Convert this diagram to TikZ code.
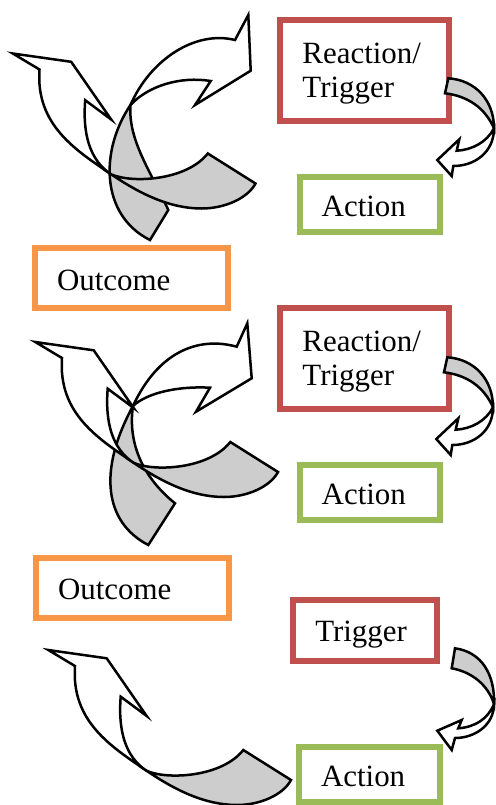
\documentclass[tikz,border=0pt]{standalone}
\usepackage{fontspec}
\setmainfont{Liberation Serif}
\usepackage{tikz}
\definecolor{TriggerRed}{RGB}{192,80,77}
\definecolor{ActionGreen}{RGB}{155,187,89}
\definecolor{OutcomeOrange}{RGB}{247,150,70}
\definecolor{BackGray}{RGB}{205,205,205}

\begin{document}
\begin{tikzpicture}[
x=0.02cm, y=-0.02cm,
font=\fontsize{17.6}{19.3}\selectfont,
box/.style={draw, line width=0.12cm, fill=white, align=left, inner xsep=0.44cm, inner ysep=0pt},
redbox/.style={box, draw=TriggerRed, minimum height=2.01cm, text height=0.43cm, text depth=0.726cm},
greenbox/.style={box, draw=ActionGreen, minimum height=1.1cm, text height=0.496cm, text depth=0cm},
orangebox/.style={box, draw=OutcomeOrange, minimum height=1.2cm, text height=0.49cm, text depth=0cm},
turnline/.style={draw=black, line width=0.05cm, line join=miter},
frontside/.style={turnline, fill=white},
backside/.style={turnline, fill=BackGray},
bigturn/.pic={
  \filldraw[backside] (147,771) .. controls (175,790) and (205,805) .. (237,805) .. controls (260,805) and (283,795) .. (291,780)
    -- (243.3,750) .. controls (222,777) and (168,780) .. (147,771) -- cycle;
  \filldraw[frontside] (48.3,650) -- (75,666) .. controls (71,722) and (112,747) .. (147,771)
    .. controls (125,757) and (118,730) .. (120.7,696.7) -- (146.7,716) -- (106.7,658.3) -- cycle;
},
smallturn/.pic={
  \filldraw[backside] (448.3,78.3) .. controls (475,80) and (494,100) .. (494,128.3)
    .. controls (485,108) and (468,96) .. (445,93.3) -- cycle;
  \filldraw[frontside] (494,128.3) .. controls (494,152) and (475,166) .. (453.3,166)
    -- (451.7,176) -- (437.3,160) -- (459.3,139.3) -- (456.7,150.7)
    .. controls (472,150) and (487,142) .. (494,128.3) -- cycle;
}
]
\useasboundingbox (0,0) rectangle (495,805);

% boxes
\node[redbox, text width=2.49cm] (react1) at (364.7,70.7) {Reaction/\\Trigger};
\node[greenbox, text width=1.92cm] (act1) at (369.7,204.3) {Action};
\node[orangebox, text width=2.98cm] (out1) at (131.5,278.2) {Outcome};
\node[redbox, text width=2.49cm] (react2) at (364.7,358.7) {Reaction/\\Trigger};
\node[greenbox, text width=1.92cm] (act2) at (369.7,492.3) {Action};
\node[orangebox, text width=2.98cm] (out2) at (132.5,587.7) {Outcome};
\node[redbox, text width=1.99cm, minimum height=1.22cm, text height=0.448cm, text depth=0cm] (trig3) at (365,630.5) {Trigger};
\node[greenbox, text width=1.94cm] (act3) at (369.5,774) {Action};

% first cycle
\filldraw[backside] (130.5,105) .. controls (100,150) and (100,215) .. (150,240)
  -- (168.3,210) .. controls (150,170) and (128,140) .. (130.5,105) -- cycle;
\filldraw[frontside] (248.3,15) -- (235,40) .. controls (195,30) and (150,60) .. (130.5,105)
  .. controls (148,86) and (180,76) .. (210.7,81) -- (195,105) -- (250.7,70.7) -- cycle;
\pic at (-35.5,-596.5) {bigturn};
\pic at (0,0) {smallturn};

% second cycle
\filldraw[backside] (133,406) .. controls (98,470) and (104,522) .. (148.3,545)
  -- (175,503.3) .. controls (140,475) and (128,440) .. (133,406) -- cycle;
\filldraw[frontside] (247.3,323.3) -- (236.7,346.7) .. controls (198,336) and (158,352) .. (133,406)
  .. controls (148,392) and (180,386) .. (210,387.7) -- (196,411.7) -- (251.7,378.3) -- cycle;
\pic at (-13,-308) {bigturn};
\pic at (-1,279) {smallturn};

% last arc
\pic at (0,0) {bigturn};
\filldraw[backside] (455,648.3) .. controls (482,652) and (495,675) .. (494,704)
  .. controls (488,685) and (472,672) .. (451.7,668.3) -- cycle;
\filldraw[frontside] (494,704) .. controls (494,725) and (475,738) .. (455,738)
  -- (451.7,750) -- (437.3,730.7) -- (461.7,720) -- (458.3,728.3)
  .. controls (475,727) and (488,719) .. (494,704) -- cycle;
\end{tikzpicture}
\end{document}
